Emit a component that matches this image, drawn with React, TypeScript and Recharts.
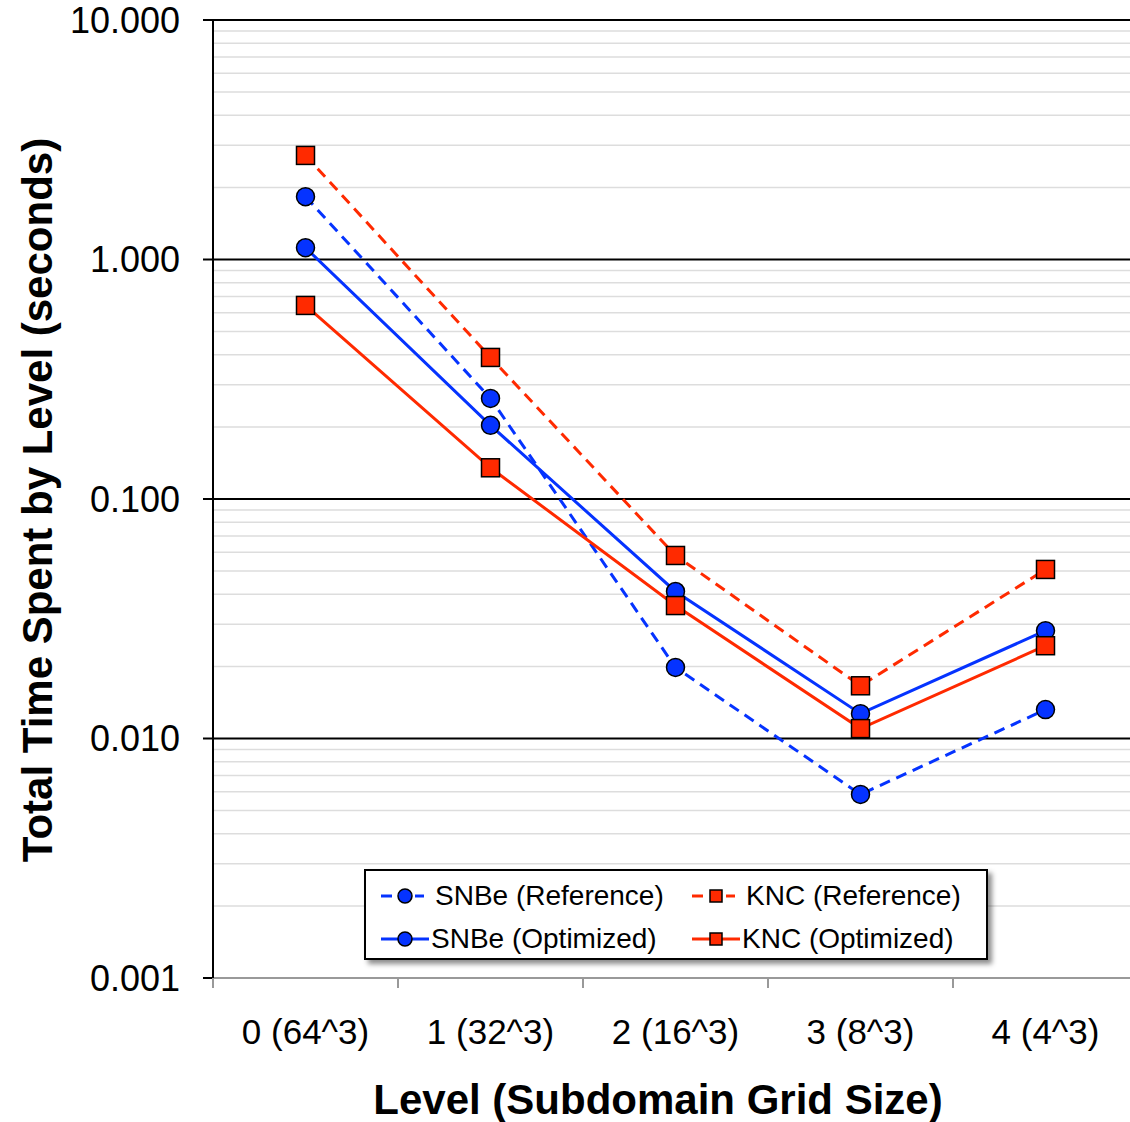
import { ComposedChart, Line, XAxis, YAxis, ReferenceLine } from 'recharts'

const levels = ['0 (64^3)', '1 (32^3)', '2 (16^3)', '3 (8^3)', '4 (4^3)']
const snbeRef = [1.83, 0.263, 0.0198, 0.00584, 0.0132]
const snbeOpt = [1.12, 0.203, 0.0411, 0.0127, 0.0282]
const kncRef = [2.72, 0.39, 0.0581, 0.0166, 0.0508]
const kncOpt = [0.643, 0.135, 0.0359, 0.011, 0.0244]

const majorTicks = [0.001, 0.01, 0.1, 1, 10]
const minorTicks = [0.001, 0.01, 0.1, 1].flatMap(d => [2, 3, 4, 5, 6, 7, 8, 9].map(m => +(d * m).toPrecision(2)))

const data = levels.map((level, i) => ({
  level,
  snbeRef: snbeRef[i],
  snbeOpt: snbeOpt[i],
  kncRef: kncRef[i],
  kncOpt: kncOpt[i],
}))

const BLUE = '#0533ff'
const RED = '#ff2a00'
const FONT = '"Liberation Sans", Arial, sans-serif'

const W = 1140
const H = 1122
const PLOT_LEFT = 213
const PLOT_RIGHT = 1138
const HALF_BAND = (PLOT_RIGHT - PLOT_LEFT) / levels.length / 2

function CircleDot(props: any) {
  const { cx, cy, fill } = props
  if (cx == null || cy == null) return null
  return <circle cx={cx} cy={cy} r={9} fill={fill} stroke="#000" strokeWidth={1.5} />
}

function SquareDot(props: any) {
  const { cx, cy, fill } = props
  if (cx == null || cy == null) return null
  return <rect x={cx - 9} y={cy - 9} width={18} height={18} fill={fill} stroke="#000" strokeWidth={1.5} />
}

function XTick(props: any) {
  const { x, y, payload, index } = props
  return (
    <g>
      <line x1={x - HALF_BAND} y1={y} x2={x - HALF_BAND} y2={y + 10} stroke="#999" strokeWidth={2} />
      {index === levels.length - 1 && (
        <line x1={x + HALF_BAND} y1={y} x2={x + HALF_BAND} y2={y + 10} stroke="#999" strokeWidth={2} />
      )}
      <text x={x} y={y + 66} textAnchor="middle" fontSize={35} fontFamily={FONT} fill="#000">
        {payload.value}
      </text>
    </g>
  )
}

function LegendIcon({ color, dashed, square }: { color: string; dashed: boolean; square: boolean }) {
  return (
    <svg width={48} height={20} style={{ display: 'block' }}>
      {dashed ? (
        <>
          <line x1={0} y1={10} x2={11} y2={10} stroke={color} strokeWidth={3} />
          <line x1={34} y1={10} x2={43} y2={10} stroke={color} strokeWidth={3} />
        </>
      ) : (
        <line x1={0} y1={10} x2={48} y2={10} stroke={color} strokeWidth={3} />
      )}
      {square ? (
        <rect x={18} y={4} width={12} height={12} fill={color} stroke="#000" strokeWidth={1.5} />
      ) : (
        <circle cx={24} cy={10} r={7} fill={color} stroke="#000" strokeWidth={1.5} />
      )}
    </svg>
  )
}

const legendItems = [
  { name: 'SNBe (Reference)', color: BLUE, dashed: true, square: false, left: 15, top: 15 },
  { name: 'KNC (Reference)', color: RED, dashed: true, square: true, left: 326, top: 15 },
  { name: 'SNBe (Optimized)', color: BLUE, dashed: false, square: false, left: 15, top: 58 },
  { name: 'KNC (Optimized)', color: RED, dashed: false, square: true, left: 326, top: 58 },
]

export default function App() {
  return (
    <div style={{ position: 'absolute', left: 0, top: 0, width: 1130, height: H, overflow: 'hidden', background: '#fff', fontFamily: FONT }}>
      <ComposedChart width={W} height={H} data={data} margin={{ top: 20, right: W - PLOT_RIGHT, left: 0, bottom: 0 }}>
        <XAxis
          dataKey="level"
          height={H - 978}
          padding={{ left: HALF_BAND, right: HALF_BAND }}
          axisLine={{ stroke: '#999', strokeWidth: 2 }}
          tickLine={false}
          tickSize={0}
          tickMargin={0}
          interval={0}
          tick={<XTick />}
        />
        <YAxis
          scale="log"
          domain={[0.001, 10]}
          ticks={majorTicks}
          interval={0}
          width={PLOT_LEFT}
          allowDataOverflow
          axisLine={{ stroke: '#000', strokeWidth: 2 }}
          tickLine={{ stroke: '#000', strokeWidth: 2 }}
          tickSize={10}
          tickMargin={23}
          tick={{ fontSize: 36, fill: '#000', fontFamily: FONT }}
          tickFormatter={(v: number) => v.toFixed(3)}
        />
        {minorTicks.map(v => (
          <ReferenceLine key={'m' + v} y={v} stroke="#dddddd" strokeWidth={1.5} />
        ))}
        {majorTicks.slice(1).map(v => (
          <ReferenceLine key={'M' + v} y={v} stroke="#000" strokeWidth={2} />
        ))}
        <Line dataKey="snbeRef" stroke={BLUE} fill={BLUE} strokeWidth={3} strokeDasharray="11 7" dot={<CircleDot />} activeDot={false} isAnimationActive={false} />
        <Line dataKey="snbeOpt" stroke={BLUE} fill={BLUE} strokeWidth={3} dot={<CircleDot />} activeDot={false} isAnimationActive={false} />
        <Line dataKey="kncRef" stroke={RED} fill={RED} strokeWidth={3} strokeDasharray="11 7" dot={<SquareDot />} activeDot={false} isAnimationActive={false} />
        <Line dataKey="kncOpt" stroke={RED} fill={RED} strokeWidth={3} dot={<SquareDot />} activeDot={false} isAnimationActive={false} />
      </ComposedChart>

      {/* axis titles */}
      <div
        style={{
          position: 'absolute', left: 38, top: 500, transform: 'translate(-50%, -50%) rotate(-90deg)',
          whiteSpace: 'nowrap', fontSize: 42, fontWeight: 'bold', color: '#000', lineHeight: 1,
        }}
      >
        Total Time Spent by Level (seconds)
      </div>
      <div
        style={{
          position: 'absolute', left: 658, top: 1100, transform: 'translate(-50%, -50%)',
          whiteSpace: 'nowrap', fontSize: 42, fontWeight: 'bold', color: '#000', lineHeight: 1,
        }}
      >
        Level (Subdomain Grid Size)
      </div>

      {/* legend */}
      <div
        style={{
          position: 'absolute', left: 364, top: 869, width: 620, height: 87, background: '#fff',
          border: '2px solid #000', boxShadow: '4px 4px 5px rgba(0,0,0,0.45)',
        }}
      >
        {legendItems.map(it => (
          <div key={it.name} style={{ position: 'absolute', left: it.left, top: it.top, display: 'flex', alignItems: 'center', gap: it.dashed ? 6 : 2, fontSize: 28, lineHeight: '20px' }}>
            <LegendIcon color={it.color} dashed={it.dashed} square={it.square} />
            <span>{it.name}</span>
          </div>
        ))}
      </div>
    </div>
  )
}
